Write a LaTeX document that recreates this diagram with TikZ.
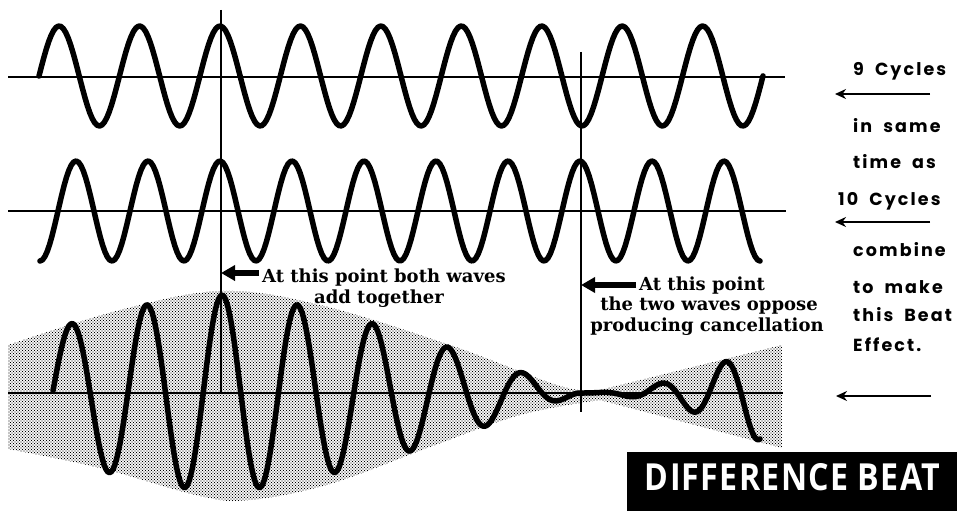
\documentclass[tikz,border=0pt]{standalone}
\usepackage{fontspec}
\usepackage{graphicx}
\usetikzlibrary{arrows.meta,patterns}
\newfontfamily\labelfont{DejaVu Serif}
\newfontfamily\geofont[LetterSpace=12,WordSpace=1.9]{Poppins}
\newfontfamily\boxfont[LetterSpace=4]{Open Sans}
\pgfdeclarepatternformonly{halftone}{\pgfqpoint{-1pt}{-1pt}}{\pgfqpoint{4pt}{4pt}}{\pgfqpoint{3pt}{3pt}}{%
  \pgfpathcircle{\pgfqpoint{0pt}{0pt}}{.62pt}%
  \pgfpathcircle{\pgfqpoint{1.5pt}{1.5pt}}{.62pt}%
  \pgfusepath{fill}}
\begin{document}
\begin{tikzpicture}[x=1pt,y=-1pt,
  wave/.style={line width=5.5pt, line cap=round, line join=round},
  axisline/.style={line width=2.4pt},
  marker/.style={line width=2pt},
  lbl/.style={font=\labelfont\bfseries\fontsize{18}{20}\selectfont, inner sep=0pt},
  side/.style={font=\geofont\bfseries\fontsize{17.5}{20}\selectfont, inner sep=0pt, anchor=base west},
  bigarrow/.style={line width=6pt, -{Triangle[length=14pt,width=15pt]}},
  thinarrow/.style={line width=2pt, -{Stealth[length=11pt,width=10pt]}}]
\useasboundingbox (0,0) rectangle (957,511);
\fill[white] (0,0) rectangle (957,511);
% halftone envelope
\fill[pattern=halftone, pattern color=black]
  plot[smooth, tension=0.6] coordinates {(8,345) (120,310) (222,291) (320,305) (450,345) (560,386) (600,390)}
  -- (782,345) -- (782,448) -- (600,400)
  -- plot[smooth, tension=0.6] coordinates {(600,400) (520,415) (430,447) (330,484) (250,500) (200,496) (100,468) (8,449)}
  -- cycle;
% axes
\draw[axisline] (8,77) -- (785,77);
\draw[axisline] (8,211) -- (786,211);
\draw[axisline] (8,393) -- (783,393);
% vertical marker lines
\coordinate (v1top) at (221,10);
\coordinate (v1bot) at (221,393);
\coordinate (v2top) at (581,52);
\coordinate (v2bot) at (581,412);
\draw[marker] (v1top) -- (v1bot);
\draw[marker] (v2top) -- (v2bot);
% waves
\draw[wave] plot[domain=39:763, samples=300] (\x,{76-50*cos(((\x-220)/80.44)*360)});
\draw[wave] plot[domain=40:760, samples=300] (\x,{211-50*cos(((\x-220)/72)*360)});
\draw[wave] plot[domain=53:581, samples=300] (\x,{393-98*cos(90*pow((abs(\x-222)+0.01)/359,0.8))*cos(((\x-222)/75.3)*360)})
  -- plot[domain=581:760, samples=120] (\x,{393+15*((\x-581)/100)^2*cos(((\x-693)/64)*360)});
% labels
\node[lbl, anchor=base west] (l1a) at (262,282) {At this point both waves};
\node[lbl, anchor=base] (l1b) at (379,303) {add together};
\coordinate (a1tail) at ([xshift=-3pt]l1a.base west |- 0,273);
\draw[bigarrow] (a1tail) -- (a1tail -| v1top);
\node[lbl, anchor=base west] (l2a) at (639,290) {At this point};
\node[lbl, anchor=base] (l2b) at (709,310) {the two waves oppose};
\node[lbl, anchor=base] (l2c) at (707,331) {producing cancellation};
\coordinate (a2tail) at ([xshift=-3pt]l2a.base west |- 0,285);
\draw[bigarrow] (a2tail) -- (a2tail -| v2top);
% side column
\node[side] (s1) at (853,75) {9 Cycles};
\node[side] (s2) at (853,132) {in same};
\node[side] (s3) at (853,168) {time as};
\node[side] (s4) at (838,205) {10 Cycles};
\node[side] (s5) at (853,256) {combine};
\node[side] (s6) at (853,293) {to make};
\node[side] (s7) at (853,321) {this Beat};
\node[side] (s8) at (853,351) {Effect.};
\coordinate (r1a) at (930,94);  \coordinate (r1b) at (835,94);
\coordinate (r2a) at (930,222); \coordinate (r2b) at (835,222);
\coordinate (r3a) at (931,396); \coordinate (r3b) at (836,396);
\draw[thinarrow] (r1a) -- (r1b);
\draw[thinarrow] (r2a) -- (r2b);
\draw[thinarrow] (r3a) -- (r3b);
% title box
\node[fill=black, inner sep=0pt, minimum width=330pt, minimum height=59pt, anchor=north west] (dbbox) at (627,452) {};
\node[text=white, anchor=base, inner sep=0pt] (dbtext) at (792.5,490) {\resizebox{295pt}{27pt}{\boxfont\bfseries DIFFERENCE BEAT}};
\end{tikzpicture}
\end{document}
